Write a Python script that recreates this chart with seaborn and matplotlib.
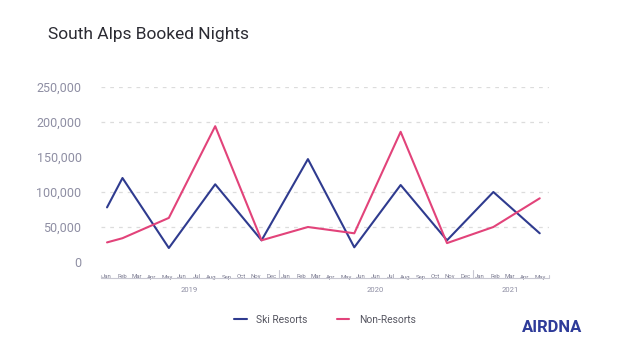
import matplotlib
matplotlib.use("Agg")
import matplotlib.pyplot as plt
import matplotlib.transforms as mtransforms
import seaborn as sns
import numpy as np
import pandas as pd

# months since Jan 2019 at which values were reported
months = [0, 1, 4, 7, 10, 13, 16, 19, 22, 25, 28]
ski_resorts = [78000, 120000, 20000, 111000, 31000, 147000, 21000, 110000, 31000, 100000, 41000]
non_resorts = [28000, 34000, 63000, 194000, 31000, 50000, 41000, 186000, 27000, 50000, 91000]

month_labels = (["Jan", "Feb", "Mar", "Apr", "May", "Jun", "Jul", "Aug", "Sep", "Oct", "Nov", "Dec"]
                + ["Jan", "Feb", "Mar", "Apr", "May", "Jun", "Jun", "Jul", "Aug", "Sep", "Oct", "Nov", "Dec"]
                + ["Jan", "Feb", "Mar", "Apr", "May"])
year_labels = ["2019", "2020", "2021"]
year_counts = [12, 13, 5]
y_ticks = [0, 50000, 100000, 150000, 200000, 250000]
grid_values = [50000, 100000, 200000, 250000]

BLUE = "#2f3b8f"
PINK = "#e2437a"
GREY = "#8e8ea3"

sns.set_theme(style="white")
plt.rcParams["font.family"] = ["Roboto", "DejaVu Sans"]

df = pd.DataFrame({
    "month": months * 2,
    "nights": ski_resorts + non_resorts,
    "segment": ["Ski Resorts"] * len(months) + ["Non-Resorts"] * len(months),
})

fig = plt.figure(figsize=(6.24, 3.52), dpi=100)
ax = fig.add_axes([101 / 624, 1 - 262 / 352, 448 / 624, 175 / 352])

sns.lineplot(data=df, x="month", y="nights", hue="segment",
             palette={"Ski Resorts": BLUE, "Non-Resorts": PINK},
             linewidth=1.5, ax=ax, legend=False)

ax.set_xlim(-0.39, 28.6)
ax.set_ylim(0, 250000)
ax.grid(False)
for v in grid_values:
    ax.axhline(v, color="#dcdcdc", linestyle=(0, (3, 4)), linewidth=0.9, zorder=0)
for s in ax.spines.values():
    s.set_visible(False)

ax.set_yticks(y_ticks)
ax.set_yticklabels([f"{v:,}" for v in y_ticks], color=GREY, fontsize=9)
ax.tick_params(axis="y", length=0, pad=14)

# month ticks spread evenly across the time span
tick_pos = np.linspace(0, 28, len(month_labels))
ax.set_xticks(tick_pos)
ax.set_xticklabels(month_labels, color="#7a7a90", fontsize=4.3)
ax.tick_params(axis="x", length=0, pad=9)
ax.set_xlabel("")
ax.set_ylabel("")

# year bracket under the month labels
trans = mtransforms.blended_transform_factory(ax.transData, ax.transAxes)
yb = -16 / 175
ax.plot([-0.39, 28.6], [yb, yb], transform=trans, color="#c8c8d2", lw=0.8, clip_on=False)
ax.plot([-0.39, -0.39], [yb, yb + 3 / 175], transform=trans, color="#c8c8d2", lw=0.8, clip_on=False)
ax.plot([28.6, 28.6], [yb, yb + 3 / 175], transform=trans, color="#c8c8d2", lw=0.8, clip_on=False)
start = 0
for label, n in zip(year_labels, year_counts):
    end = start + n - 1
    mid = (tick_pos[start] + tick_pos[end]) / 2
    ax.text(mid, -28 / 175, label, transform=trans, ha="center", va="center",
            fontsize=5.5, color=GREY)
    if end + 1 < len(tick_pos):
        sep = (tick_pos[end] + tick_pos[end + 1]) / 2
        ax.plot([sep, sep], [yb, -8 / 175], transform=trans, color="#c8c8d2", lw=0.8, clip_on=False)
    start = end + 1

fig.text(48 / 624, 1 - 35 / 352, "South Alps Booked Nights", fontsize=12.5,
         color="#2b2b33", ha="left", va="center")

handles = [plt.Line2D([], [], color=BLUE, lw=1.5), plt.Line2D([], [], color=PINK, lw=1.5)]
fig.legend(handles, ["Ski Resorts", "Non-Resorts"], loc="center",
           bbox_to_anchor=(325 / 624, 1 - 320 / 352), ncol=2, frameon=False,
           fontsize=7.4, handlelength=1.2, handletextpad=0.9, columnspacing=2.9,
           labelcolor="#555560")

fig.text(552 / 624, 1 - 327 / 352, "AIRDNA", fontsize=12, fontweight="bold",
         color="#2e3b99", ha="center", va="center")

fig.savefig("out.png", dpi=100)
